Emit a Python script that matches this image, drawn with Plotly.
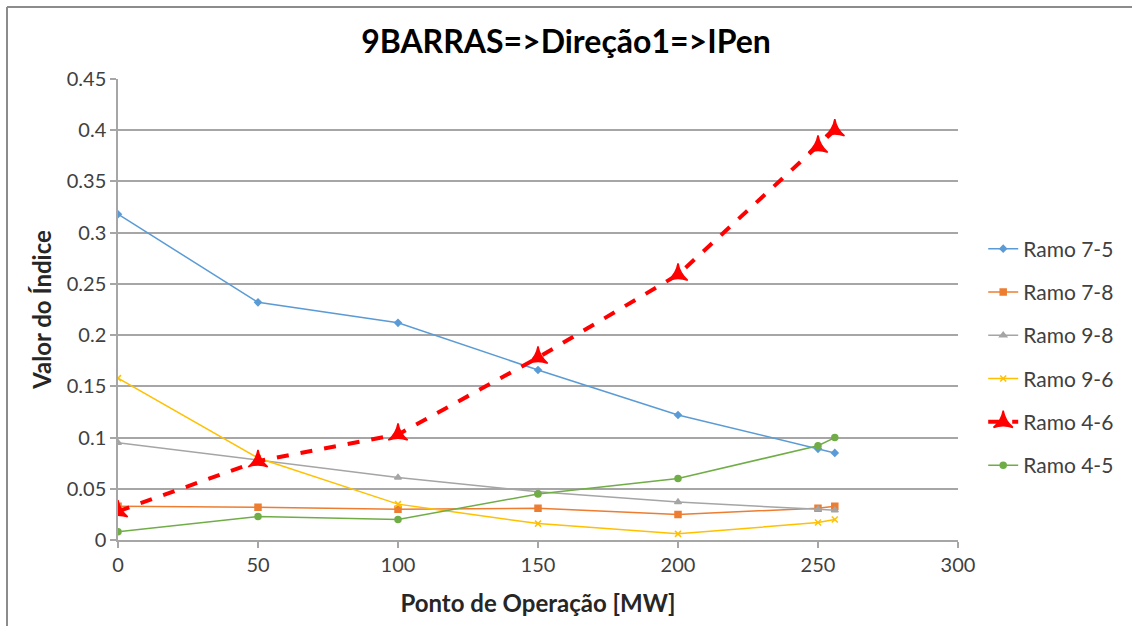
import plotly.graph_objects as go

# Operating points [MW]
ponto = [0, 50, 100, 150, 200, 250, 256]

ramo_7_5 = [0.318, 0.232, 0.212, 0.166, 0.122, 0.089, 0.085]
ramo_7_8 = [0.033, 0.032, 0.030, 0.031, 0.025, 0.031, 0.033]
ramo_9_8 = [0.095, 0.078, 0.061, 0.047, 0.037, 0.030, 0.029]
ramo_9_6 = [0.158, 0.080, 0.035, 0.016, 0.006, 0.017, 0.020]
ramo_4_6 = [0.028, 0.077, 0.103, 0.178, 0.259, 0.384, 0.400]
ramo_4_5 = [0.008, 0.023, 0.020, 0.045, 0.060, 0.092, 0.100]

series = [
    ("Ramo 7-5", ramo_7_5, "#5B9BD5", "diamond", 5, 1.5, "solid"),
    ("Ramo 7-8", ramo_7_8, "#ED7D31", "square", 6, 1.5, "solid"),
    ("Ramo 9-8", ramo_9_8, "#A5A5A5", "triangle-up", 6, 1.5, "solid"),
    ("Ramo 9-6", ramo_9_6, "#FFC000", "x-thin", 6, 1.5, "solid"),
    ("Ramo 4-6", ramo_4_6, "#FF0000", "star-triangle-up", 14, 4, "dash"),
    ("Ramo 4-5", ramo_4_5, "#70AD47", "circle", 6, 1.5, "solid"),
]

fig = go.Figure()
for name, ys, color, symbol, msize, lw, dash in series:
    fig.add_trace(go.Scatter(
        x=ponto, y=ys, name=name, mode="lines+markers", legendgroup=name,
        line=dict(color=color, width=lw, dash=dash),
        marker=dict(symbol=symbol, size=msize, color=color,
                    line=dict(color=color, width=1.5)),
    ))

font_family = "Lato, 'Open Sans', sans-serif"

fig.update_layout(
    width=1132, height=626,
    margin=dict(l=118, r=174, t=79, b=86),
    paper_bgcolor="white", plot_bgcolor="white",
    font=dict(family=font_family, color="#404040"),
    title=dict(text="<b>9BARRAS=>Direção1=>IPen</b>", x=0.5, xanchor="center",
               y=1 - 42 / 626, yanchor="middle",
               font=dict(size=32, color="#000000", family=font_family)),
    legend=dict(x=1.03, xanchor="left", y=0.397, yanchor="middle",
                font=dict(size=21, color="#404040"),
                itemsizing="trace", itemwidth=30, tracegroupgap=13,
                bgcolor="rgba(0,0,0,0)", borderwidth=0),
    showlegend=True,
)

fig.update_xaxes(
    range=[0, 300], tickvals=[0, 50, 100, 150, 200, 250, 300],
    showgrid=False, zeroline=False,
    showline=True, linecolor="#A6A6A6", linewidth=1.5,
    ticks="outside", ticklen=6, tickcolor="#A6A6A6", tickwidth=1.5,
    tickfont=dict(size=20, color="#404040"),
    title=dict(text="<b>Ponto de Operação [MW]</b>", standoff=20,
               font=dict(size=24, color="#262626")),
)
fig.update_yaxes(
    range=[0, 0.45], tickvals=[0, 0.05, 0.1, 0.15, 0.2, 0.25, 0.3, 0.35, 0.4, 0.45],
    ticktext=["0", "0.05", "0.1", "0.15", "0.2", "0.25", "0.3", "0.35", "0.4", "0.45"],
    showgrid=True, gridcolor="#A6A6A6", gridwidth=1.5, zeroline=False,
    showline=True, linecolor="#A6A6A6", linewidth=1.5,
    ticks="outside", ticklen=6, tickcolor="#A6A6A6", tickwidth=1.5,
    tickfont=dict(size=20, color="#404040"),
    title=dict(text="<b>Valor do Índice</b>", standoff=8,
               font=dict(size=24, color="#262626")),
)

# Frame lines along the top and left edge of the chart area
fig.add_shape(type="line", xref="paper", yref="paper",
              x0=(7 - 118) / 840, x1=(1132 - 118) / 840,
              y0=1 + (79 - 7) / 461, y1=1 + (79 - 7) / 461,
              line=dict(color="#8C8C8C", width=2))
fig.add_shape(type="line", xref="paper", yref="paper",
              x0=(7 - 118) / 840, x1=(7 - 118) / 840,
              y0=1 + (79 - 7) / 461, y1=-86 / 461,
              line=dict(color="#8C8C8C", width=2))

fig.write_html("out.html")
